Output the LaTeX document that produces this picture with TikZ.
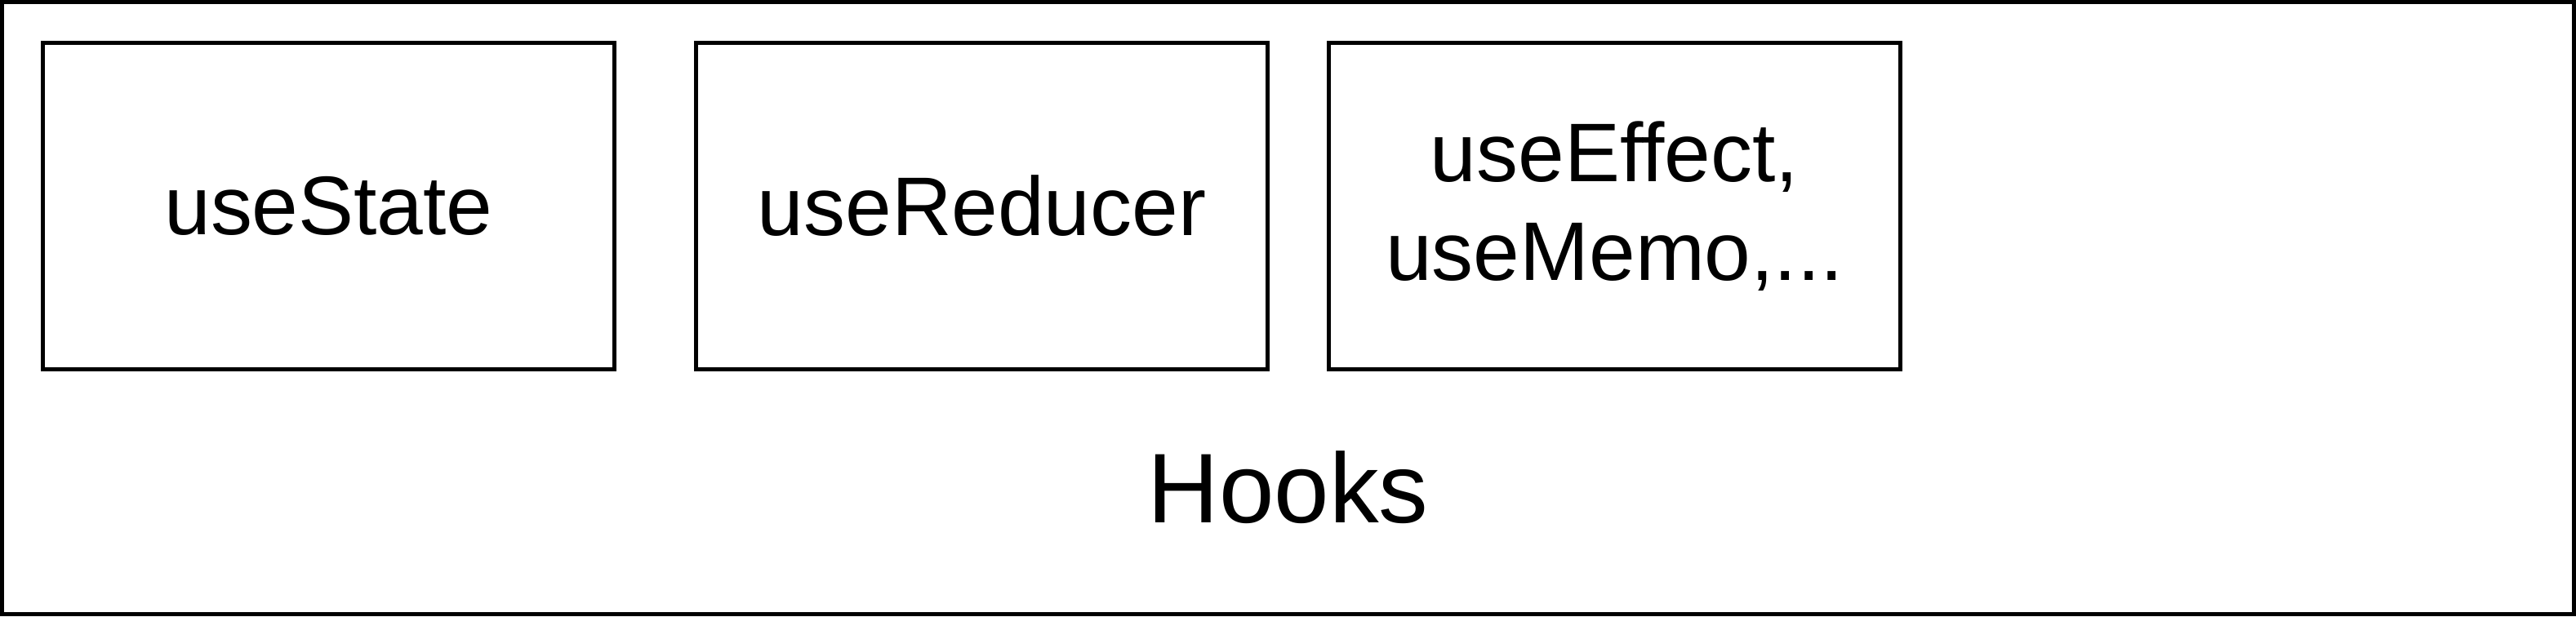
\documentclass[tikz,border=0pt]{standalone}
\usepackage{fontspec}
\setmainfont{Liberation Sans}[Ligatures=NoCommon]
\usepackage{tikz}
\usetikzlibrary{shapes}
\tikzstyle{hk}=[rectangle,draw=black,line width=1.42pt,minimum width=7cm,minimum height=4cm,inner sep=1pt,align=center,font=\fontsize{29}{34.5}\selectfont]
\tikzstyle{frame}=[draw=black,line width=1.42pt]

\begin{document}
\begin{tikzpicture}
\useasboundingbox (0,0) rectangle (31.55,7.55);
\draw[frame] (0.025,0.025) rectangle (31.525,7.525);
\node[hk] (state) at (4.025,5.025) {useState};
\node[hk] (reducer) at (12.025,5.025) {useReducer};
\node[hk] (effect) at (19.775,5.025) {useEffect,\\useMemo,...};
\node[anchor=base,font=\fontsize{34.5}{41}\selectfont] (hooks) at (15.775,1.15) {Hooks};
\end{tikzpicture}
\end{document}
